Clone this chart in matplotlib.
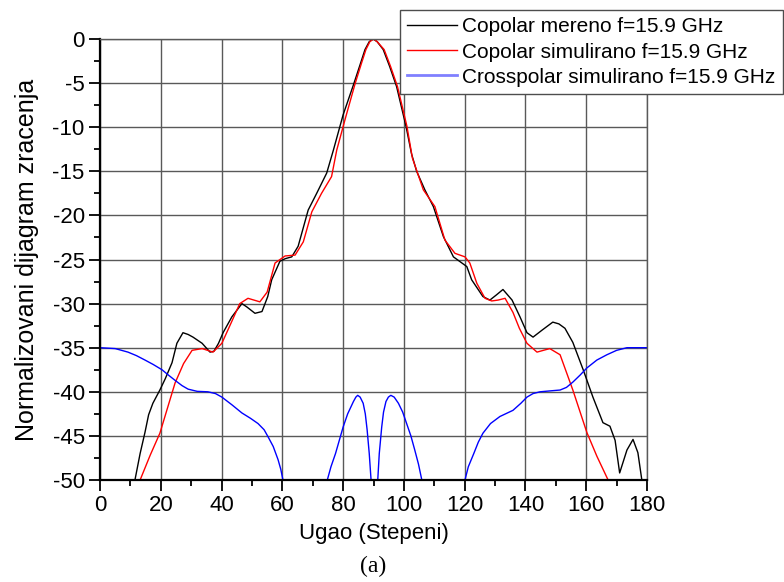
import numpy as np
import matplotlib
matplotlib.use("Agg")
import matplotlib.pyplot as plt
from matplotlib.ticker import MultipleLocator

plt.rcParams['font.family'] = ['Liberation Sans', 'DejaVu Sans']
plt.rcParams['axes.unicode_minus'] = False

# measured copolar pattern (deg, dB)
mereno_x = [11.5, 13.2, 14.8, 16.0, 17.4, 19.7, 21.5, 23.7, 25.3, 27.3, 29.0, 30.6,
            33.6, 36.2, 37.5, 39.0, 40.5, 43.4, 46.7, 48.4, 51.0, 53.3, 55.2, 56.5,
            59.2, 61.0, 63.1, 65.2, 68.5, 71.3, 74.6, 76.8, 80.0, 83.4, 85.5, 87.2,
            88.6, 89.9, 91.2, 93.2, 95.3, 97.6, 100.7, 102.5, 104.2, 106.9, 109.7,
            113.0, 116.3, 120.7, 122.3, 126.0, 128.3, 130.5, 132.6, 135.6, 138.2, 140.5,
            142.5, 145.5, 149.0, 151.0, 153.0, 155.6, 159.0, 162.2, 165.5, 167.8, 169.5,
            171.0, 173.4, 175.4, 177.0, 178.3]
mereno_y = [-50.0, -47.0, -44.6, -42.6, -41.3, -39.8, -38.5, -36.7, -34.5, -33.3, -33.5, -33.8,
            -34.5, -35.5, -35.4, -34.5, -33.3, -31.5, -30.0, -30.4, -31.1, -30.9, -29.2, -27.3,
            -25.2, -24.9, -24.7, -23.5, -19.4, -17.5, -15.2, -12.6, -8.6, -5.2, -3.0, -1.2,
            -0.3, 0.0, -0.3, -1.2, -3.1, -5.4, -9.9, -13.0, -15.0, -17.1, -19.0,
            -22.4, -24.7, -25.8, -27.3, -29.2, -29.6, -29.0, -28.4, -29.6, -31.5, -33.3,
            -33.8, -33.0, -32.1, -32.3, -32.8, -34.4, -37.5, -40.6, -43.5, -43.9, -45.5,
            -49.2, -46.6, -45.4, -46.9, -50.0]

# simulated copolar pattern
simul_x = [13.2, 16.5, 19.7, 24.7, 27.5, 30.3, 33.6, 37.2, 40.1, 43.0, 46.0, 48.7,
           52.6, 55.0, 57.6, 60.9, 64.2, 66.9, 69.7, 72.9, 76.2, 77.9, 80.9, 84.0,
           86.0, 87.5, 88.8, 90.0, 91.2, 93.5, 95.6, 97.9, 101.0, 102.8, 106.4, 110.2,
           113.5, 116.8, 120.1, 121.7, 124.0, 126.7, 128.9, 131.0, 133.3, 135.9, 138.0,
           140.5, 143.8, 148.0, 151.4, 155.6, 160.2, 163.5, 167.2]
simul_y = [-50.0, -47.2, -44.7, -39.0, -36.8, -35.3, -35.1, -35.5, -34.5, -32.3, -30.0, -29.4,
           -29.8, -28.7, -25.4, -24.6, -24.5, -23.0, -19.6, -17.5, -15.6, -12.6, -8.8, -5.0,
           -2.8, -1.2, -0.3, 0.0, -0.3, -1.2, -3.1, -5.4, -9.9, -13.5, -17.1, -19.0,
           -22.8, -24.3, -24.7, -25.4, -27.7, -29.4, -29.7, -29.6, -29.4, -31.0, -32.8,
           -34.5, -35.5, -35.1, -35.8, -39.8, -44.6, -47.3, -50.0]

# simulated crosspolar pattern (gaps where it drops below -50 dB)
cross_x = [0.0, 5.0, 9.2, 12.0, 14.8, 17.5, 20.4, 22.5, 24.7, 27.0, 29.0, 32.0, 35.5, 38.0,
           40.1, 43.5, 46.7, 49.5, 52.0, 54.0, 55.3, 57.0, 58.6, 59.5, 60.2,
           np.nan,
           74.8, 76.0, 77.5, 79.0, 80.0, 81.5, 83.4, 84.2, 84.8, 85.6, 86.6, 87.3, 87.9,
           88.6, 89.2,
           np.nan,
           91.4, 91.9, 92.7, 93.3, 94.1, 94.9, 95.7, 96.8, 98.2, 99.6, 100.9, 102.3,
           103.5, 104.8, 105.9,
           np.nan,
           120.1, 121.2, 123.0, 124.5, 126.0, 128.5, 131.6, 135.9, 138.5, 140.5, 142.5,
           144.8, 148.0, 151.4, 153.5, 155.6, 158.0, 160.2, 163.5, 166.8, 170.0, 173.4,
           180.0]
cross_y = [-35.0, -35.1, -35.5, -35.9, -36.4, -36.9, -37.5, -38.1, -38.7, -39.3, -39.7, -39.95,
           -40.0, -40.2, -40.6, -41.5, -42.4, -43.0, -43.6, -44.3, -45.1, -46.2, -47.7, -48.8,
           -50.0,
           np.nan,
           -50.0, -48.5, -47.0, -45.2, -44.0, -42.5, -41.1, -40.6, -40.4, -40.6, -41.3, -42.5,
           -44.3, -47.0, -50.0,
           np.nan,
           -50.0, -47.0, -44.0, -42.3, -41.1, -40.6, -40.4, -40.6, -41.3, -42.3, -43.6, -45.0,
           -46.5, -48.2, -50.0,
           np.nan,
           -50.0, -48.5, -47.0, -45.7, -44.7, -43.6, -42.8, -42.1, -41.3, -40.6, -40.2,
           -40.0, -39.9, -39.8, -39.5, -38.9, -38.1, -37.3, -36.4, -35.8, -35.3, -35.0,
           -35.0]

fig = plt.figure(figsize=(7.84, 5.82), dpi=100)
ax = fig.add_axes([100 / 784, 102 / 582, 547 / 784, 441 / 582])

l1, = ax.plot(mereno_x, mereno_y, color='black', lw=1.0)
l2, = ax.plot(simul_x, simul_y, color='#ff0000', lw=1.0)
l3, = ax.plot(cross_x, cross_y, color='#0000ff', lw=1.0)

ax.set_xlim(0, 180)
ax.set_ylim(-50, 0)
ax.xaxis.set_major_locator(MultipleLocator(20))
ax.xaxis.set_minor_locator(MultipleLocator(10))
ax.yaxis.set_major_locator(MultipleLocator(5))
ax.yaxis.set_minor_locator(MultipleLocator(2.5))
ax.grid(True, which='major', color='0.35', lw=1.0)
ax.set_axisbelow(True)

ax.tick_params(which='major', direction='out', length=8, width=1.3, labelsize=16, pad=3)
ax.tick_params(which='minor', direction='out', length=4, width=1.3)
ax.tick_params(top=False, right=False)
for s in ['left', 'bottom']:
    ax.spines[s].set_linewidth(1.6)
for s in ['top', 'right']:
    ax.spines[s].set_color('0.35')
    ax.spines[s].set_linewidth(1.0)

ax.set_xlabel('Ugao (Stepeni)', fontsize=16, labelpad=5)
ax.set_ylabel('Normalizovani dijagram zracenja', fontsize=18, labelpad=10)

leg = fig.legend([l1, l2, l3],
                 ['Copolar mereno f=15.9 GHz', 'Copolar simulirano f=15.9 GHz',
                  'Crosspolar simulirano f=15.9 GHz'],
                 loc='upper right', bbox_to_anchor=(1.0 - 1 / 784, 1 - 10 / 582),
                 bbox_transform=fig.transFigure, fontsize=15, frameon=True,
                 fancybox=False, edgecolor='0.3', framealpha=1.0,
                 handlelength=2.4, handletextpad=0.25, labelspacing=0.3,
                 borderpad=0.35, borderaxespad=0.0)
leg.legend_handles[2].set_color('#8080ff')
leg.legend_handles[2].set_linewidth(2.0)

fig.text(373 / 784, 1 - 566 / 582, '(a)', family='Liberation Serif', fontsize=17,
         ha='center', va='center')

fig.savefig('out.png', dpi=100)
